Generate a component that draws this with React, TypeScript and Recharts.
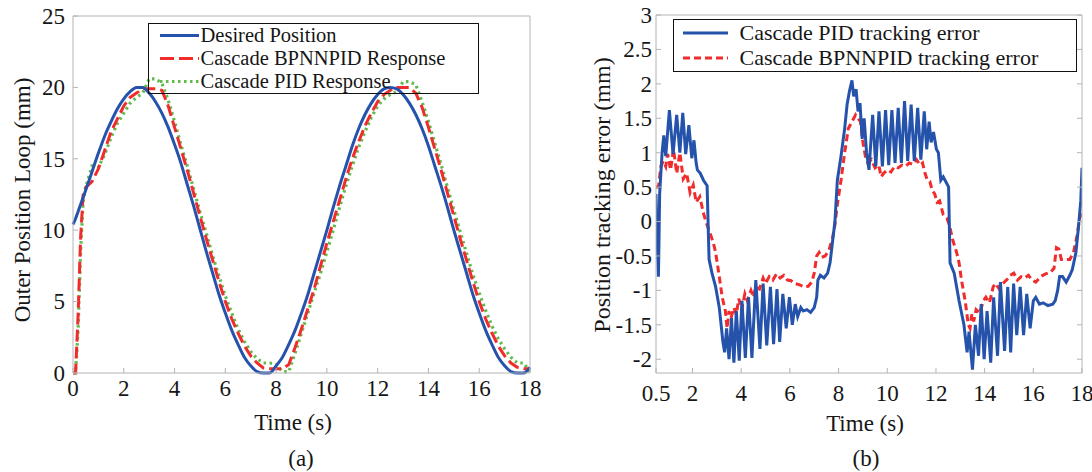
import { LineChart, Line, XAxis, YAxis } from 'recharts'

const FONT = '"Liberation Serif", "Times New Roman", Times, serif'
const INK = '#161616'
const FRAME = '#b4b4b4'
const BLUE = '#2553ac'
const RED = '#f02c2c'
const GREEN = '#5fbb4c'

// ── (a) outer position loop ──────────────────────────────────────────────────
const timeA = [
  0, 0.1, 0.2, 0.3, 0.4, 0.5, 0.75, 1, 1.25, 1.5, 1.75, 2, 2.25, 2.5, 2.75, 3, 3.25, 3.5, 3.75,
  4, 4.25, 4.5, 4.75, 5, 5.25, 5.5, 5.75, 6, 6.25, 6.5, 6.75, 7, 7.25, 7.5, 7.75, 8, 8.25, 8.5,
  8.75, 9, 9.25, 9.5, 9.75, 10, 10.25, 10.5, 10.75, 11, 11.25, 11.5, 11.75, 12, 12.25, 12.5,
  12.75, 13, 13.25, 13.5, 13.75, 14, 14.25, 14.5, 14.75, 15, 15.25, 15.5, 15.75, 16, 16.25,
  16.5, 16.75, 17, 17.25, 17.5, 17.75, 18,
]
const desired = [
  10.4, 10.8, 11.3, 11.8, 12.3, 12.8, 14.1, 15.4, 16.6, 17.6, 18.5, 19.2, 19.7, 20.0, 20.0, 19.6,
  19.0, 18.2, 17.2, 16.0, 14.7, 13.2, 11.7, 10.1, 8.5, 7.0, 5.5, 4.2, 3.0, 2.0, 1.1, 0.5, 0.1, 0,
  0, 0.5, 1.1, 2.0, 3.0, 4.2, 5.5, 7.0, 8.5, 10.0, 11.6, 13.1, 14.5, 15.9, 17.1, 18.1, 18.9,
  19.5, 19.9, 20.0, 19.9, 19.5, 18.9, 18.1, 17.1, 15.9, 14.5, 13.1, 11.6, 10.0, 8.5, 7.0, 5.5,
  4.2, 3.0, 2.0, 1.1, 0.5, 0.1, 0, 0, 0.4,
]
const bpnnResp = [
  0, 0, 4, 9.5, 12.5, 13.0, 13.4, 14.3, 15.6, 16.9, 17.8, 18.7, 19.3, 19.6, 19.9, 19.9, 19.9,
  19.8, 18.7, 17.2, 15.7, 14.2, 12.6, 11.0, 9.4, 7.9, 6.4, 5.0, 3.8, 2.8, 1.9, 1.2, 0.7, 0.35,
  0.3, 0.3, 0.3, 0.6, 1.8, 3.1, 4.5, 5.9, 7.5, 9.1, 10.6, 12.1, 13.6, 15.0, 16.2, 17.3, 18.2,
  19.0, 19.5, 19.8, 20.0, 20.0, 20.0, 19.6, 18.6, 17.2, 15.7, 14.2, 12.6, 11.0, 9.4, 7.9, 6.4,
  5.0, 3.8, 2.8, 1.9, 1.2, 0.7, 0.4, 0.3, 0.3,
]
const pidResp = [
  0, 0, 3, 8.5, 12.0, 13.0, 14.5, 14.4, 15.3, 16.5, 17.5, 18.2, 18.9, 19.3, 19.6, 20.6, 20.6,
  20.3, 19.1, 17.6, 16.0, 14.5, 12.9, 11.3, 9.8, 8.2, 6.8, 5.4, 4.2, 3.1, 2.2, 1.5, 1.0, 0.7,
  0.7, 0.6, 0.1, 0.1, 1.4, 2.8, 4.2, 5.6, 7.0, 8.5, 10.0, 11.6, 13.1, 14.5, 15.8, 16.9, 17.9,
  18.7, 19.2, 19.5, 19.7, 20.4, 20.4, 20.2, 19.0, 17.6, 16.1, 14.6, 13.0, 11.4, 9.9, 8.4, 6.9,
  5.6, 4.4, 3.3, 2.4, 1.7, 1.1, 0.7, 0.7, 0.1,
]
const ticksXA = [0, 2, 4, 6, 8, 10, 12, 14, 16, 18]
const ticksYA = [0, 5, 10, 15, 20, 25]

// ── (b) tracking error: [time s, error mm] ───────────────────────────────────
const pidErr: [number, number][] = [
  [0.5, 0.4], [0.55, -0.3], [0.6, -0.8], [0.65, 0.4], [0.75, 1.0], [0.82, 1.25], [0.9, 0.95],
  [1.05, 1.62], [1.2, 0.98], [1.35, 1.55], [1.48, 1.0], [1.6, 1.58], [1.72, 0.98], [1.85, 1.4],
  [1.97, 0.92], [2.06, 1.18], [2.15, 0.85], [2.2, 0.75], [2.32, 0.7], [2.45, 0.6], [2.6, 0.52],
  [2.68, -0.55], [2.8, -0.75], [2.95, -0.95], [3.1, -1.25], [3.25, -1.75], [3.32, -1.9],
  [3.4, -1.55], [3.5, -2.0], [3.6, -1.4], [3.7, -2.05], [3.8, -1.3], [3.92, -2.02], [4.03, -1.15],
  [4.17, -1.98], [4.3, -1.1], [4.44, -1.98], [4.6, -0.85], [4.77, -1.85], [4.9, -0.9],
  [5.05, -1.8], [5.2, -0.95], [5.33, -1.78], [5.47, -0.98], [5.58, -1.75], [5.71, -1.05],
  [5.85, -1.55], [5.98, -1.1], [6.1, -1.5], [6.22, -1.2], [6.32, -1.38], [6.45, -1.25],
  [6.55, -1.3], [6.7, -1.28], [6.85, -1.32], [7.0, -1.25], [7.1, -1.1], [7.15, -0.85],
  [7.25, -0.78], [7.4, -0.82], [7.55, -0.75], [7.65, -0.6], [7.75, -0.3], [7.85, 0.0], [7.95, 0.6],
  [8.1, 0.95], [8.25, 1.35], [8.35, 1.7], [8.45, 1.9], [8.55, 2.05], [8.62, 1.82], [8.72, 1.92],
  [8.8, 1.6], [8.88, 1.72], [8.97, 1.2], [9.05, 1.5], [9.15, 1.0], [9.25, 0.75], [9.4, 1.55],
  [9.53, 0.8], [9.66, 1.6], [9.8, 0.8], [9.93, 1.62], [10.06, 0.82], [10.19, 1.62], [10.32, 0.85],
  [10.45, 1.65], [10.58, 0.85], [10.71, 1.75], [10.84, 0.88], [10.98, 1.7], [11.11, 0.88],
  [11.25, 1.65], [11.38, 0.9], [11.52, 1.6], [11.62, 1.05], [11.72, 1.45], [11.8, 1.15],
  [11.9, 1.3], [12.02, 1.05], [12.1, 1.0], [12.2, 0.6], [12.3, 0.65], [12.45, 0.55], [12.52, 0.5],
  [12.58, -0.6], [12.75, -0.75], [12.95, -1.15], [13.15, -1.5], [13.28, -1.9], [13.36, -1.6],
  [13.5, -2.15], [13.62, -1.5], [13.75, -1.95], [13.86, -1.2], [13.98, -2.0], [14.1, -1.3],
  [14.25, -2.05], [14.37, -1.1], [14.53, -1.95], [14.65, -0.88], [14.82, -1.88], [14.95, -0.95],
  [15.07, -1.9], [15.19, -0.9], [15.32, -1.65], [15.46, -0.95], [15.6, -1.65], [15.73, -1.05],
  [15.87, -1.55], [16.0, -1.15], [16.1, -1.1], [16.25, -1.2], [16.4, -1.18], [16.6, -1.22],
  [16.8, -1.2], [16.9, -1.15], [17.0, -1.0], [17.08, -0.8], [17.2, -0.8], [17.35, -0.88],
  [17.5, -0.78], [17.6, -0.7], [17.75, -0.45], [17.85, -0.1], [17.95, 0.3], [18.0, 0.78],
]
const bpnnErr: [number, number][] = [
  [0.5, 0.5], [0.6, 0.5], [0.7, 0.8], [0.8, 0.88], [0.9, 0.8], [0.98, 0.98], [1.1, 0.75],
  [1.22, 1.05], [1.35, 0.7], [1.48, 1.0], [1.62, 0.62], [1.76, 0.7], [1.9, 0.42], [2.03, 0.53],
  [2.15, 0.28], [2.3, 0.36], [2.45, 0.12], [2.55, 0.0], [2.7, -0.15], [2.85, -0.3], [2.95, -0.45],
  [3.1, -0.8], [3.22, -1.1], [3.35, -1.3], [3.42, -1.55], [3.5, -1.3], [3.58, -1.4], [3.7, -1.25],
  [3.8, -1.35], [3.9, -1.12], [4.02, -1.28], [4.15, -1.05], [4.25, -1.15], [4.4, -1.0],
  [4.5, -1.1], [4.6, -0.95], [4.75, -0.98], [4.9, -0.82], [5.0, -0.9], [5.15, -0.8], [5.3, -0.85],
  [5.45, -0.76], [5.6, -0.82], [5.75, -0.78], [5.9, -0.85], [6.05, -0.86], [6.2, -0.9],
  [6.4, -0.92], [6.6, -0.95], [6.75, -0.94], [6.9, -0.88], [7.0, -0.75], [7.1, -0.5], [7.2, -0.45],
  [7.3, -0.52], [7.45, -0.5], [7.6, -0.42], [7.75, -0.25], [7.85, -0.05], [7.95, 0.25], [8.1, 0.6],
  [8.25, 1.0], [8.4, 1.35], [8.55, 1.45], [8.7, 1.55], [8.8, 1.5], [8.9, 1.45], [9.0, 1.15],
  [9.1, 0.95], [9.2, 0.85], [9.35, 0.9], [9.5, 0.78], [9.65, 0.82], [9.75, 0.65], [9.85, 0.7],
  [10.0, 0.75], [10.15, 0.72], [10.3, 0.8], [10.45, 0.78], [10.6, 0.82], [10.75, 0.8], [10.9, 0.85],
  [11.05, 0.83], [11.2, 0.9], [11.35, 0.82], [11.45, 0.85], [11.55, 0.7], [11.65, 0.6],
  [11.75, 0.58], [11.85, 0.45], [11.95, 0.4], [12.05, 0.28], [12.15, 0.3], [12.3, 0.1],
  [12.45, 0.05], [12.55, -0.05], [12.7, -0.28], [12.85, -0.45], [12.95, -0.6], [13.05, -0.85],
  [13.2, -1.15], [13.33, -1.5], [13.4, -1.55], [13.47, -1.35], [13.55, -1.45], [13.65, -1.28],
  [13.8, -1.33], [13.95, -1.15], [14.05, -1.1], [14.2, -1.18], [14.35, -0.95], [14.45, -0.9],
  [14.6, -0.98], [14.75, -0.9], [14.9, -0.85], [15.05, -0.78], [15.2, -0.75], [15.35, -0.85],
  [15.5, -0.8], [15.65, -0.82], [15.8, -0.78], [15.95, -0.85], [16.1, -0.88], [16.3, -0.8],
  [16.5, -0.76], [16.7, -0.74], [16.85, -0.68], [16.95, -0.38], [17.05, -0.4], [17.15, -0.55],
  [17.3, -0.55], [17.5, -0.55], [17.65, -0.45], [17.8, -0.2], [17.9, 0.05], [18.0, 0.12],
]
const ticksXB = [0.5, 2, 4, 6, 8, 10, 12, 14, 16, 18]
const ticksYB = [-2, -1.5, -1, -0.5, 0, 0.5, 1, 1.5, 2, 2.5, 3]

const rowsA = timeA.map((t, i) => ({ t, desired: desired[i], bpnn: bpnnResp[i], pid: pidResp[i] }))
const pidErrData = pidErr.map(([t, v]) => ({ t, v }))
const bpnnErrData = bpnnErr.map(([t, v]) => ({ t, v }))

const blank = () => ''

// Tick label drawn as plain <text> so the serif font and size stick
function serifTick(anchor: 'middle' | 'end') {
  return (props: any) => (
    <text x={props.x} y={props.y} dy="0.34em" textAnchor={anchor}
      fontFamily={FONT} fontSize={23} fill={INK}>
      {String(props.payload.value)}
    </text>
  )
}

// Absolutely placed text, centred on (x, y)
function Txt({ x, y, size = 23, rotate = 0, children }: {
  x: number; y: number; size?: number; rotate?: number; children: string
}) {
  return (
    <div style={{
      position: 'absolute', left: x, top: y, whiteSpace: 'nowrap', fontFamily: FONT,
      fontSize: size, lineHeight: 1, color: INK,
      transform: `translate(-50%, -50%) rotate(${rotate}deg)`,
    }}>{children}</div>
  )
}

type LegendRow = { label: string; color: string; dash?: string; width: number }

// Legend box with transparent fill, like the figure (curves show through it)
function LegendBox({ left, top, width, height, rows, rowY, sample, textX, size, lineH }: {
  left: number; top: number; width: number; height: number; rows: LegendRow[]
  rowY: number[]; sample: [number, number]; textX: number; size: number; lineH: number
}) {
  return (
    <div style={{
      position: 'absolute', left, top, width, height, boxSizing: 'border-box',
      border: '1.5px solid #111',
    }}>
      <svg width={width} height={height} style={{ position: 'absolute', left: -1.5, top: -1.5 }}>
        {rows.map((r, i) => (
          <line key={r.label} x1={sample[0]} x2={sample[1]} y1={rowY[i]} y2={rowY[i]}
            stroke={r.color} strokeWidth={r.width} strokeDasharray={r.dash} />
        ))}
      </svg>
      {rows.map((r, i) => (
        <div key={r.label} style={{
          position: 'absolute', left: textX - 1.5, top: rowY[i] - 1.5 - lineH / 2, height: lineH,
          fontFamily: FONT, fontSize: size, lineHeight: `${lineH}px`, color: INK, whiteSpace: 'nowrap',
        }}>{r.label}</div>
      ))}
    </div>
  )
}

export default function App() {
  return (
    <div style={{ position: 'absolute', left: 0, top: 0, width: 1092, height: 472, background: '#fff', overflow: 'hidden', fontFamily: FONT }}>
      {/* ── (a) ── */}
      <div style={{ position: 'absolute', left: 0, top: 0 }}>
        <LineChart width={546} height={430} data={rowsA} margin={{ top: 15, right: 15, bottom: 30, left: 0 }}>
          <XAxis dataKey="t" type="number" domain={[0, 18]} ticks={ticksXA} interval={0}
            tick={serifTick('middle')} tickSize={-5} tickMargin={20} height={27}
            stroke={FRAME} tickLine={{ stroke: FRAME }} />
          <XAxis xAxisId="top" orientation="top" dataKey="t" type="number" domain={[0, 18]}
            tick={false} height={1} stroke={FRAME} />
          <YAxis type="number" domain={[0, 25]} ticks={ticksYA} interval={0} width={73}
            tick={serifTick('end')} tickSize={-5} tickMargin={13} stroke={FRAME}
            tickLine={{ stroke: FRAME }} />
          <YAxis yAxisId="r" orientation="right" type="number" domain={[0, 25]} ticks={ticksYA}
            interval={0} width={1} tickSize={-5} tickFormatter={blank} stroke={FRAME}
            tickLine={{ stroke: FRAME }} />
          <Line dataKey="pid" type="linear" stroke={GREEN} strokeWidth={3.2}
            strokeDasharray="2.5 3.5" dot={false} isAnimationActive={false} />
          <Line dataKey="bpnn" type="linear" stroke={RED} strokeWidth={3}
            strokeDasharray="12 5" dot={false} isAnimationActive={false} />
          <Line dataKey="desired" type="monotone" stroke={BLUE} strokeWidth={3}
            dot={false} isAnimationActive={false} />
        </LineChart>
      </div>
      <LegendBox left={148} top={23} width={331} height={71} size={20.5} lineH={21}
        rowY={[12.5, 35.5, 58.5]} sample={[12, 51]} textX={53}
        rows={[
          { label: 'Desired Position', color: BLUE, width: 3 },
          { label: 'Cascade BPNNPID Response', color: RED, width: 3, dash: '14 5' },
          { label: 'Cascade PID Response', color: GREEN, width: 3, dash: '2.5 3.5' },
        ]} />
      <Txt x={22} y={200} rotate={-90}>Outer Position Loop (mm)</Txt>
      <Txt x={293} y={422}>Time (s)</Txt>
      <Txt x={301} y={458}>(a)</Txt>

      {/* ── (b) ── */}
      <div style={{ position: 'absolute', left: 546, top: 0 }}>
        <LineChart width={546} height={430} margin={{ top: 14, right: 9, bottom: 30, left: 0 }}>
          <XAxis dataKey="t" type="number" domain={[0.5, 18]} ticks={ticksXB} interval={0}
            tick={serifTick('middle')} tickSize={-5} tickMargin={25} height={27}
            stroke={FRAME} tickLine={{ stroke: FRAME }} allowDataOverflow />
          <XAxis xAxisId="top" orientation="top" dataKey="t" type="number" domain={[0.5, 18]}
            tick={false} height={1} stroke={FRAME} allowDataOverflow />
          <YAxis type="number" domain={[-2.2, 3]} ticks={ticksYB} interval={0} width={110}
            tick={serifTick('end')} tickSize={-5} tickMargin={9} stroke={FRAME}
            tickLine={{ stroke: FRAME }} allowDataOverflow />
          <YAxis yAxisId="r" orientation="right" type="number" domain={[-2.2, 3]} ticks={ticksYB}
            interval={0} width={1} tickSize={-5} tickFormatter={blank} stroke={FRAME}
            tickLine={{ stroke: FRAME }} allowDataOverflow />
          <Line data={bpnnErrData} dataKey="v" type="linear" stroke={RED} strokeWidth={3}
            strokeDasharray="7 4" dot={false} isAnimationActive={false} />
          <Line data={pidErrData} dataKey="v" type="linear" stroke={BLUE} strokeWidth={3}
            dot={false} isAnimationActive={false} />
        </LineChart>
      </div>
      <LegendBox left={673} top={19} width={404} height={53} size={22} lineH={22}
        rowY={[14, 39]} sample={[10, 55]} textX={67}
        rows={[
          { label: 'Cascade PID tracking error', color: BLUE, width: 3 },
          { label: 'Cascade BPNNPID tracking error', color: RED, width: 3, dash: '7 4' },
        ]} />
      <Txt x={602} y={195} size={24} rotate={-90}>Position tracking error (mm)</Txt>
      <Txt x={865} y={423}>Time (s)</Txt>
      <Txt x={866} y={458}>(b)</Txt>
    </div>
  )
}
